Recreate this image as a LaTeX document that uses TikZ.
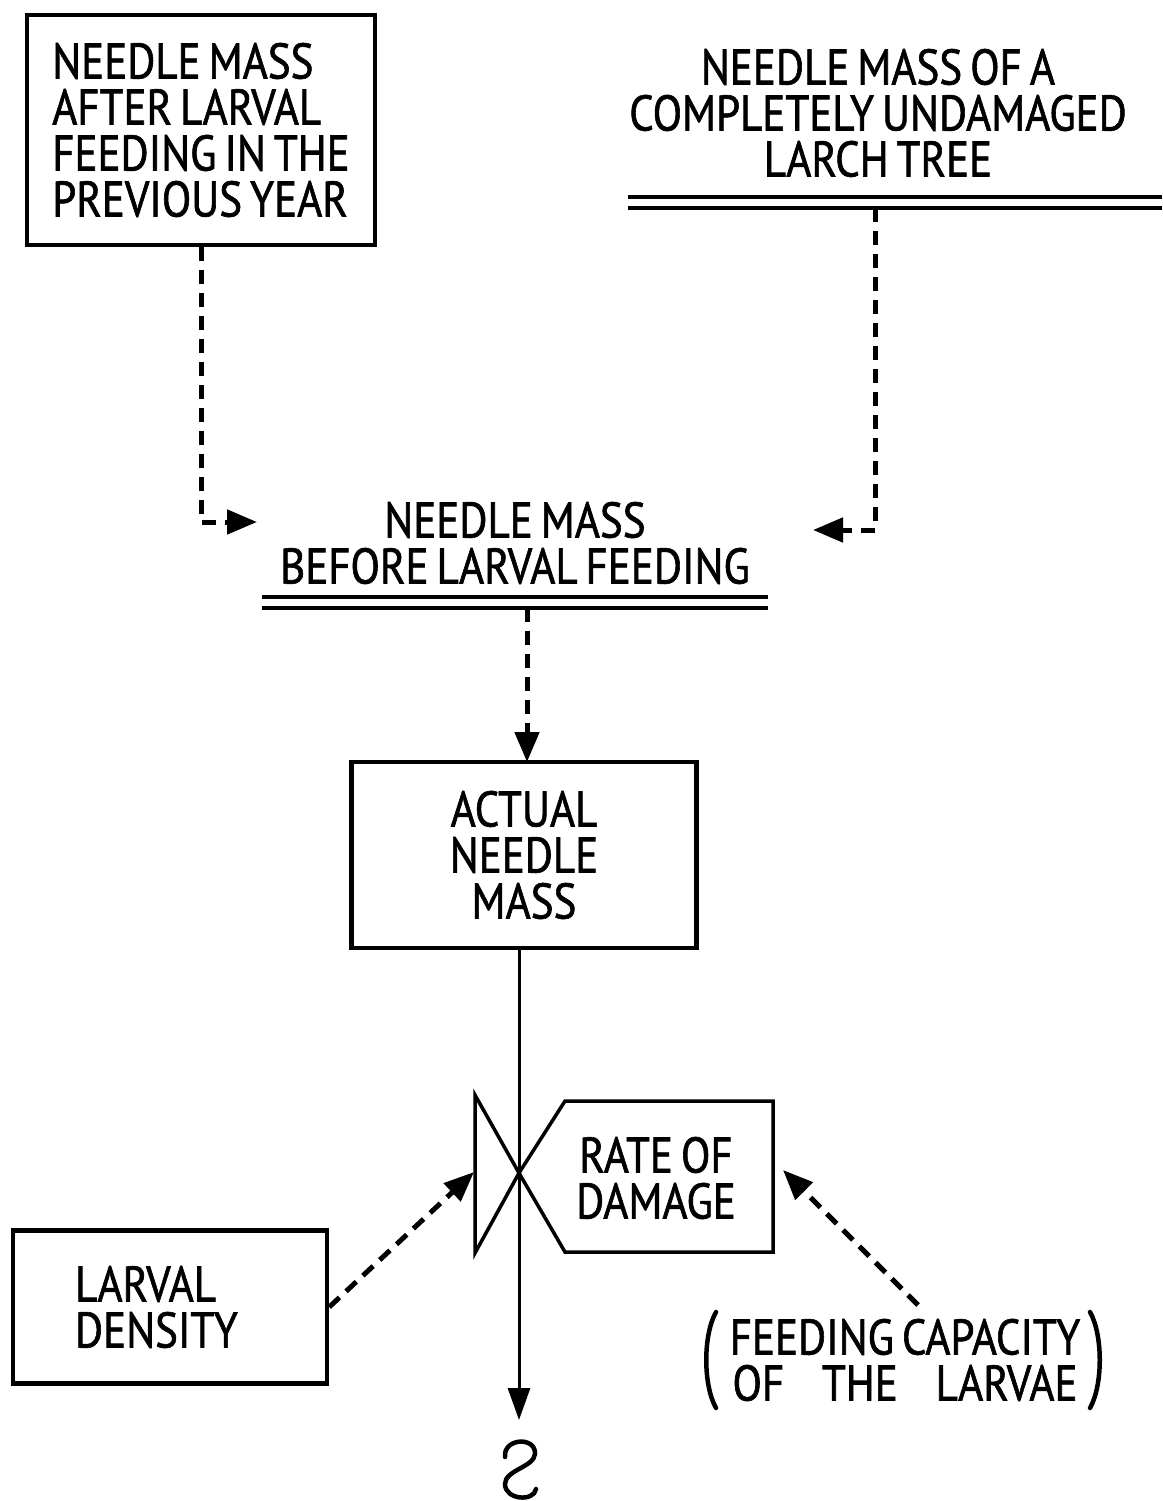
\documentclass[tikz,border=0pt]{standalone}
\usepackage{fontspec}
\setmainfont{PT Sans}[FakeStretch=0.86, FakeBold=1.2, WordSpace=0.7]
\usetikzlibrary{arrows.meta}

\tikzset{
  lbl/.style={font=\fontsize{50}{46}\selectfont, inner sep=0pt, align=center},
  stockbox/.style={draw, line width=4.5pt, inner sep=0pt, font=\fontsize{50}{46}\selectfont},
  dashedlink/.style={line width=5pt, dash pattern=on 14pt off 9pt, -{Triangle[length=30pt,width=24pt]}},
  flowline/.style={line width=3pt, -{Triangle[length=32pt,width=22pt]}},
  rule/.style={line width=4pt},
  paren/.style={line width=4.5pt, line cap=round},
}

\begin{document}
\begin{tikzpicture}[x=1pt, y=-1pt]
\useasboundingbox (0,0) rectangle (1162,1501);

% stock carried over from the previous year
\node[stockbox, minimum width=348pt, minimum height=230pt, align=left] (prev) at (201,130)
  {NEEDLE MASS\\AFTER LARVAL\\FEEDING IN THE\\PREVIOUS YEAR};

% needle mass of an undamaged tree (auxiliary, double underline)
\node[lbl] (undam) at (878,113) {NEEDLE MASS OF A\\COMPLETELY UNDAMAGED\\LARCH TREE};
\coordinate (undA) at (628,197);
\coordinate (undB) at (1162,197);
\coordinate (undC) at (628,208);
\coordinate (undD) at (1162,208);
\draw[rule] (undA) -- (undB);
\draw[rule] (undC) -- (undD);
\coordinate (undFoot) at (875,208);

% needle mass before larval feeding (auxiliary, double underline)
\node[lbl] (before) at (515,543) {NEEDLE MASS\\BEFORE LARVAL FEEDING};
\coordinate (befA) at (262,597);
\coordinate (befB) at (768,597);
\coordinate (befC) at (262,608);
\coordinate (befD) at (768,608);
\draw[rule] (befA) -- (befB);
\draw[rule] (befC) -- (befD);
\coordinate (befFoot) at (527,608);

% arrow targets beside the auxiliary
\coordinate (befLeft) at (257,522);
\coordinate (befRight) at (813,530);

% actual needle mass (level)
\node[stockbox, minimum width=345pt, minimum height=186pt, align=center] (actual) at (524,855)
  {ACTUAL\\NEEDLE\\MASS};
\coordinate (actualTop) at (527,762);
\coordinate (actualFoot) at (519,948);

% valve and rate of damage
\coordinate (valveC) at (519,1173);
\draw[line width=3.5pt, line join=miter] (475,1095) -- (valveC) -- (475,1253) -- cycle;
\draw[line width=3.5pt, line join=miter] (valveC) -- (565,1101) -- (773,1101) -- (773,1252) -- (565,1252) -- cycle;
\node[lbl] (rate) at (656,1178) {RATE OF\\DAMAGE};
\coordinate (valveL) at (474,1172);
\coordinate (rateR) at (783,1170);

% larval density
\node[stockbox, minimum width=314pt, minimum height=153pt, text width=190pt, align=left] (larval) at (170,1307)
  {LARVAL\\DENSITY};

% feeding capacity of the larvae (constant)
\node[font=\fontsize{50}{46}\selectfont, inner sep=0pt, align=center] (feed) at (905,1360)
  {FEEDING CAPACITY\\\makebox[345pt][s]{OF\hfill THE\hfill LARVAE}};
\draw[paren] (716,1312) .. controls (703,1335) and (703,1385) .. (716,1408);
\draw[paren] (1090,1312) .. controls (1103,1335) and (1103,1385) .. (1090,1408);
\coordinate (feedTop) at (918,1305);

% sink
\coordinate (sinkTop) at (519,1420);
\draw[line width=4.5pt, line cap=round] (505,1457) .. controls (503,1438) and (536,1436) .. (535,1454)
  .. controls (534,1467) and (505,1470) .. (505,1484)
  .. controls (505,1500) and (534,1502) .. (536,1489);

% connectors
\draw[dashedlink] (prev.south) |- (befLeft);
\draw[dashedlink] (undFoot) |- (befRight);
\draw[dashedlink] (befFoot) -- (actualTop);
\draw[flowline] (actualFoot) -- (sinkTop);
\draw[dashedlink] (larval.east) -- (valveL);
\draw[dashedlink] (feedTop) -- (rateR);
\end{tikzpicture}
\end{document}
